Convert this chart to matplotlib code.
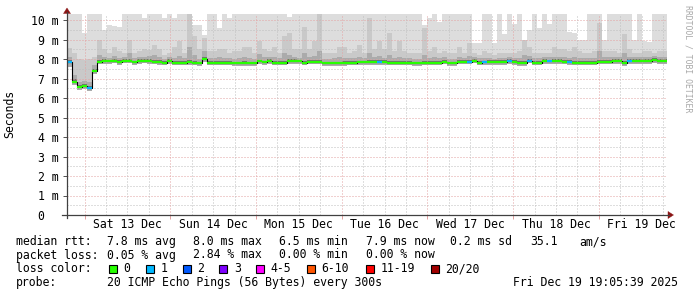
import numpy as np
import pandas as pd
import matplotlib
matplotlib.use("Agg")
import matplotlib.pyplot as plt
import matplotlib.dates as mdates
from matplotlib.patches import Rectangle, Polygon
from matplotlib.lines import Line2D

# ---------------- data ----------------
start_time = "2025-12-12 19:05:39"
end_time = "2025-12-19 19:05:39"
n_bins = 120

median_ms = [
    7.85, 6.80, 6.55, 6.60, 6.50, 7.40, 7.85, 7.90, 7.88, 7.92,
    7.84, 7.92, 7.92, 7.84, 7.90, 7.91, 7.90, 7.86, 7.85, 7.82,
    7.90, 7.82, 7.82, 7.82, 7.84, 7.82, 7.78, 8.02, 7.82, 7.82,
    7.82, 7.82, 7.82, 7.79, 7.79, 7.79, 7.79, 7.79, 7.88, 7.84,
    7.90, 7.82, 7.82, 7.82, 7.90, 7.90, 7.90, 7.82, 7.87, 7.87,
    7.87, 7.78, 7.78, 7.78, 7.78, 7.80, 7.82, 7.82, 7.84, 7.84,
    7.85, 7.85, 7.85, 7.85, 7.82, 7.82, 7.82, 7.82, 7.82, 7.78,
    7.78, 7.82, 7.82, 7.82, 7.82, 7.87, 7.78, 7.78, 7.87, 7.87,
    7.86, 7.92, 7.82, 7.84, 7.85, 7.85, 7.85, 7.85, 7.90, 7.85,
    7.80, 7.80, 7.92, 7.82, 7.82, 7.90, 7.88, 7.90, 7.90, 7.87,
    7.85, 7.82, 7.82, 7.82, 7.82, 7.82, 7.87, 7.87, 7.87, 7.90,
    7.90, 7.80, 7.90, 7.90, 7.90, 7.90, 7.90, 7.95, 7.90, 7.90,
]

lost_pings = [
    1, 0, 0, 0, 1, 0, 0, 0, 0, 0, 0, 0, 0, 0, 0, 0, 0, 0, 0, 0,
    0, 0, 0, 0, 0, 0, 0, 0, 0, 0, 0, 0, 0, 0, 0, 0, 0, 0, 0, 0,
    0, 0, 0, 0, 0, 0, 0, 0, 0, 0, 0, 0, 0, 0, 0, 0, 0, 0, 0, 0,
    0, 0, 1, 0, 0, 0, 0, 0, 0, 0, 0, 0, 0, 0, 0, 0, 0, 0, 0, 0,
    1, 0, 0, 1, 0, 0, 0, 0, 1, 0, 0, 0, 1, 0, 0, 0, 1, 0, 0, 0,
    1, 0, 0, 0, 0, 0, 0, 0, 0, 0, 0, 0, 1, 0, 0, 0, 0, 0, 0, 0,
]

rtt_max = [
    10.6, 10.6, 10.6, 9.35, 10.6, 10.6, 10.6, 9.5, 9.75, 9.7,
    9.63, 10.6, 10.6, 10.6, 10.6, 10.1, 10.6, 10.6, 10.6, 10.1,
    10.6, 10.1, 10.6, 10.6, 10.6, 9.74, 9.74, 9.23, 10.6, 10.6,
    9.57, 10.6, 10.1, 10.6, 10.6, 10.6, 10.6, 10.6, 10.6, 10.6,
    10.6, 10.6, 10.6, 10.6, 10.15, 10.6, 10.6, 10.6, 10.6, 10.6,
    10.6, 10.6, 10.6, 10.6, 10.6, 10.6, 10.6, 10.6, 10.6, 10.6,
    10.6, 10.6, 10.6, 10.6, 10.6, 10.6, 10.6, 10.6, 10.6, 10.6,
    10.6, 9.74, 10.08, 10.6, 9.9, 10.6, 10.6, 10.6, 10.6, 10.6,
    10.6, 8.8, 8.8, 10.6, 10.6, 8.8, 10.6, 9.3, 10.6, 9.8,
    10.6, 8.8, 9.5, 10.6, 9.6, 10.6, 9.8, 10.6, 10.6, 10.6,
    9.4, 9.35, 9.0, 9.0, 10.6, 10.6, 10.6, 9.0, 10.6, 10.6,
    10.6, 10.6, 10.6, 9.0, 10.6, 8.9, 8.85, 10.6, 10.6, 10.6,
]

rtt_hi = [
    8.55, 8.30, 8.00, 7.95, 8.00, 8.10, 9.00, 8.50, 8.30, 8.60,
    8.40, 8.30, 9.00, 8.30, 8.40, 8.50, 8.45, 8.70, 8.50, 8.20,
    8.30, 8.60, 8.90, 8.30, 10.6, 9.20, 8.50, 9.10, 8.40, 8.40,
    8.50, 8.50, 8.30, 8.40, 8.40, 8.60, 8.60, 8.30, 8.90, 8.50,
    8.40, 8.63, 8.30, 9.20, 9.35, 8.50, 8.50, 9.66, 8.50, 8.90,
    10.6, 8.30, 8.30, 8.30, 8.60, 8.60, 8.30, 8.40, 8.70, 8.30,
    10.1, 8.50, 8.90, 8.50, 9.35, 8.40, 8.90, 8.40, 8.30, 8.30,
    8.30, 9.60, 8.40, 8.60, 8.30, 8.40, 8.30, 8.30, 8.60, 8.30,
    8.80, 8.30, 8.20, 8.40, 8.30, 8.20, 8.30, 8.30, 8.30, 8.30,
    8.40, 9.00, 8.60, 8.30, 8.30, 8.30, 8.30, 8.60, 8.50, 8.50,
    8.40, 8.60, 8.40, 8.30, 8.30, 8.40, 9.85, 8.40, 8.40, 8.40,
    8.30, 9.30, 8.50, 8.30, 8.30, 8.40, 8.40, 8.30, 8.40, 8.40,
]

rtt_mid = [
    8.10, 7.20, 6.80, 6.85, 6.80, 7.70, 8.20, 8.10, 8.05, 8.15,
    8.05, 8.10, 8.30, 8.05, 8.10, 8.10, 8.15, 8.20, 8.10, 8.00,
    8.10, 8.05, 8.15, 8.05, 8.60, 8.20, 8.00, 8.40, 8.05, 8.05,
    8.10, 8.05, 8.05, 8.00, 8.05, 8.10, 8.05, 8.00, 8.25, 8.10,
    8.10, 8.10, 8.05, 8.30, 8.20, 8.10, 8.05, 8.30, 8.10, 8.15,
    8.40, 8.00, 8.00, 8.05, 8.10, 8.05, 8.05, 8.05, 8.10, 8.05,
    8.30, 8.10, 8.15, 8.05, 8.20, 8.05, 8.10, 8.05, 8.05, 8.00,
    8.00, 8.20, 8.05, 8.10, 8.05, 8.10, 8.00, 8.00, 8.10, 8.05,
    8.15, 8.10, 8.05, 8.05, 8.05, 8.00, 8.05, 8.05, 8.10, 8.05,
    8.05, 8.20, 8.15, 8.05, 8.05, 8.10, 8.10, 8.10, 8.10, 8.10,
    8.05, 8.10, 8.05, 8.05, 8.05, 8.05, 8.40, 8.10, 8.10, 8.10,
    8.10, 8.30, 8.10, 8.10, 8.10, 8.10, 8.10, 8.15, 8.10, 8.10,
]

rtt_near = [
    7.95, 6.95, 6.65, 6.70, 6.60, 7.50, 7.95, 8.00, 7.97, 8.00,
    7.93, 8.00, 8.02, 7.92, 7.98, 8.00, 7.98, 7.95, 7.93, 7.90,
    7.98, 7.90, 7.90, 7.90, 7.95, 7.92, 7.86, 8.12, 7.90, 7.90,
    7.90, 7.90, 7.90, 7.87, 7.87, 7.88, 7.87, 7.87, 7.97, 7.92,
    7.98, 7.90, 7.90, 7.92, 7.98, 7.98, 7.97, 7.92, 7.95, 7.96,
    7.97, 7.86, 7.86, 7.86, 7.87, 7.88, 7.90, 7.90, 7.92, 7.92,
    7.95, 7.93, 7.93, 7.93, 7.90, 7.90, 7.90, 7.90, 7.90, 7.86,
    7.86, 7.92, 7.90, 7.90, 7.90, 7.95, 7.86, 7.86, 7.95, 7.95,
    7.95, 8.00, 7.90, 7.92, 7.93, 7.93, 7.93, 7.93, 7.98, 7.93,
    7.88, 7.90, 8.00, 7.90, 7.90, 7.98, 7.96, 7.98, 7.98, 7.95,
    7.93, 7.90, 7.90, 7.90, 7.90, 7.90, 7.97, 7.95, 7.95, 7.98,
    7.98, 7.90, 7.98, 7.98, 7.98, 7.98, 7.98, 8.03, 7.98, 7.98,
]

rtt_lo = [
    7.60, 6.65, 6.40, 6.45, 6.38, 7.25, 7.72, 7.76, 7.74, 7.78,
    7.70, 7.78, 7.78, 7.70, 7.76, 7.77, 7.76, 7.72, 7.71, 7.68,
    7.76, 7.68, 7.68, 7.68, 7.70, 7.68, 7.64, 7.86, 7.68, 7.68,
    7.68, 7.68, 7.68, 7.65, 7.65, 7.65, 7.65, 7.65, 7.74, 7.70,
    7.76, 7.68, 7.68, 7.68, 7.76, 7.76, 7.76, 7.68, 7.73, 7.73,
    7.73, 7.64, 7.64, 7.64, 7.64, 7.66, 7.68, 7.68, 7.70, 7.70,
    7.71, 7.71, 7.71, 7.71, 7.68, 7.68, 7.68, 7.68, 7.68, 7.64,
    7.64, 7.68, 7.68, 7.68, 7.68, 7.73, 7.64, 7.64, 7.73, 7.73,
    7.72, 7.78, 7.68, 7.70, 7.71, 7.71, 7.71, 7.71, 7.76, 7.71,
    7.66, 7.66, 7.78, 7.68, 7.68, 7.76, 7.74, 7.76, 7.76, 7.73,
    7.71, 7.68, 7.68, 7.68, 7.68, 7.68, 7.73, 7.73, 7.73, 7.76,
    7.76, 7.66, 7.76, 7.76, 7.76, 7.76, 7.76, 7.81, 7.76, 7.76,
]

y_ticks = [0, 1, 2, 3, 4, 5, 6, 7, 8, 9, 10]
y_tick_labels = ["0  ", "1 m", "2 m", "3 m", "4 m", "5 m", "6 m", "7 m", "8 m", "9 m", "10 m"]
day_labels = ["Sat 13 Dec", "Sun 14 Dec", "Mon 15 Dec", "Tue 16 Dec",
              "Wed 17 Dec", "Thu 18 Dec", "Fri 19 Dec"]

loss_labels = ["0", "1", "2", "3", "4-5", "6-10", "11-19", "20/20"]
loss_colors = ["#26FF00", "#00B8FF", "#0059FF", "#7E00FF", "#FF00FF",
               "#FF5500", "#FF0000", "#A10000"]

rtt_stats = ["7.8 ms avg", "8.0 ms max", "6.5 ms min", "7.9 ms now", "0.2 ms sd", "35.1", "am/s"]
loss_stats = ["0.05 % avg", "2.84 % max", "0.00 % min", "0.00 % now"]
probe_text = "20 ICMP Echo Pings (56 Bytes) every 300s"
stamp_text = "Fri Dec 19 19:05:39 2025"

# ---------------- figure ----------------
W, H = 697, 297
MONO = "DejaVu Sans Mono"
FS = 8.3
fig = plt.figure(figsize=(W / 100, H / 100), dpi=100)
fig.patch.set_facecolor("white")


def fx(x):
    return x / W


def fy(y):
    return 1 - y / H


ax_left, ax_right, ax_bottom, ax_top = 67, 667, 215, 14.15
ax = fig.add_axes([fx(ax_left), fy(ax_bottom), (ax_right - ax_left) / W, (ax_bottom - ax_top) / H])
ax.set_facecolor("white")
for s in ax.spines.values():
    s.set_visible(False)

t0 = pd.Timestamp(start_time)
t1 = pd.Timestamp(end_time)
edges = pd.date_range(t0, t1, periods=n_bins + 1)
xe = mdates.date2num(edges.to_pydatetime())
ax.set_xlim(xe[0], xe[-1])
ax.set_ylim(0, 10.3)


def ext(a):
    a = np.asarray(a, dtype=float)
    return np.append(a, a[-1])


ax.fill_between(xe, ext(rtt_lo), ext(rtt_max), step="post", color="#DDDDDD", lw=0, zorder=1)
ax.fill_between(xe, ext(rtt_lo), ext(rtt_hi), step="post", color="#C9C9C9", lw=0, zorder=2)
ax.fill_between(xe, ext(rtt_lo), ext(rtt_mid), step="post", color="#ABABAB", lw=0, zorder=3)
ax.fill_between(xe, ext(median_ms), ext(rtt_near), step="post", color="#707070", lw=0, zorder=4)

# grid
minor_col = "#BFBFBF"
major_col = "#E3A3A3"
dots = (0, (1, 2))
for v in np.arange(0.5, 10.01, 0.5):
    is_major = abs(v - round(v)) < 1e-9
    ax.axhline(v, color=major_col if is_major else minor_col, lw=0.72, ls=dots, zorder=5)
six_h = pd.date_range("2025-12-13 00:00", "2025-12-19 18:00", freq="6h")
for t in six_h:
    is_major = t.hour == 0
    ax.axvline(mdates.date2num(t.to_pydatetime()), color=major_col if is_major else minor_col,
               lw=0.72, ls=dots, zorder=5)

# median line
ax.step(xe, ext(median_ms), where="post", color="#000000", lw=0.8, zorder=6)


def loss_color(n):
    if n <= 0:
        return loss_colors[0]
    if n == 1:
        return loss_colors[1]
    if n == 2:
        return loss_colors[2]
    if n == 3:
        return loss_colors[3]
    if n <= 5:
        return loss_colors[4]
    if n <= 10:
        return loss_colors[5]
    if n <= 19:
        return loss_colors[6]
    return loss_colors[7]


ax.hlines(median_ms, xe[:-1], xe[1:], colors=[loss_color(n) for n in lost_pings],
          lw=1.6, zorder=7)

# ticks
ax.set_yticks(y_ticks)
ax.set_yticklabels(y_tick_labels, fontfamily=MONO, fontsize=FS)
ax.tick_params(axis="y", length=3, width=0.72, color="#555555", pad=2.9)
mids = pd.date_range("2025-12-13 00:00", periods=7, freq="D")
ax.set_xticks(mdates.date2num(mids.to_pydatetime()))
ax.set_xticklabels([])
ax.tick_params(axis="x", length=3, width=0.72, color=major_col)
noons = pd.date_range("2025-12-13 12:00", periods=7, freq="D")
for t, lab in zip(noons, day_labels):
    ax.text(mdates.date2num(t.to_pydatetime()), -(225 - 215) / (ax_bottom - ax_top),
            lab, transform=ax.get_xaxis_transform(), ha="center", va="center",
            fontfamily=MONO, fontsize=FS, color="#000000", clip_on=False)

# axis lines with arrows
axis_col = "#404040"
arrow_col = "#8B1414"
fig.add_artist(Line2D([fx(67), fx(67)], [fy(218), fy(12)], color=axis_col, lw=0.9))
fig.add_artist(Line2D([fx(62), fx(669)], [fy(215), fy(215)], color=axis_col, lw=0.9))
fig.add_artist(Polygon([[fx(63.5), fy(13.5)], [fx(70.5), fy(13.5)], [fx(67), fy(8)]],
                       closed=True, facecolor=arrow_col, edgecolor=arrow_col, lw=0.3))
fig.add_artist(Polygon([[fx(668), fy(211.5)], [fx(668), fy(218.5)], [fx(673.5), fy(215)]],
                       closed=True, facecolor=arrow_col, edgecolor=arrow_col, lw=0.3))

# y label and watermark
fig.text(fx(10), fy(114), "Seconds", rotation=90, ha="center", va="center",
         fontfamily=MONO, fontsize=FS, color="#000000")
fig.text(fx(688), fy(59), "RRDTOOL / TOBI OETIKER", rotation=270, ha="center", va="center",
         fontfamily=MONO, fontsize=5.9, color="#A8A8A8")

# legend block


def t(x, y, s):
    fig.text(fx(x), fy(y), s, ha="left", va="center", fontfamily=MONO, fontsize=FS, color="#000000")


row_y = [241.7, 255.0, 269.0, 282.7]
t(16, row_y[0], "median rtt:")
for x, s in zip([107.3, 192.7, 279.3, 365.7, 450.0, 530.0, 579.3], rtt_stats):
    t(x, row_y[0], s)
t(16, row_y[1], "packet loss:")
for x, s in zip([107.3, 192.7, 279.3, 365.7], loss_stats):
    t(x, row_y[1], s)
t(16, row_y[2], "loss color:")
box_x = [109.0, 145.7, 182.7, 219.3, 256.3, 307.0, 365.7, 431.0]
for bx, lab, col in zip(box_x, loss_labels, loss_colors):
    fig.add_artist(Rectangle((fx(bx), fy(row_y[2] + 4)), 8 / W, 8 / H, facecolor=col,
                             edgecolor="#000000", lw=0.8))
    t(bx + 14.5, row_y[2], lab)
t(16, row_y[3], "probe:")
t(107.3, row_y[3], probe_text)
t(513.3, row_y[3], stamp_text)

fig.savefig("out.png", dpi=100, facecolor="white")
